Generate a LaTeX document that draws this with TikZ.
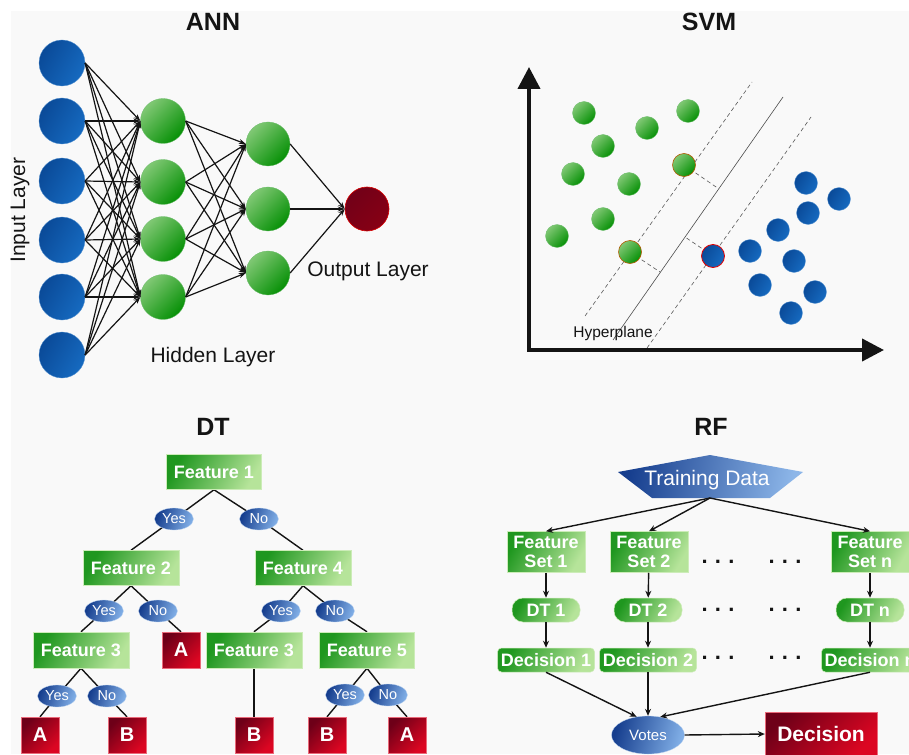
\documentclass[tikz,border=0pt]{standalone}
\usepackage{fontspec}
\setmainfont{Liberation Sans}
\usetikzlibrary{arrows.meta,shapes.geometric}
\definecolor{bgc}{HTML}{F9F9F9}
\definecolor{blueA}{HTML}{0A4A98}
\definecolor{blueB}{HTML}{166AC0}
\definecolor{greenL}{HTML}{80C874}
\definecolor{greenD}{HTML}{069006}
\definecolor{redD}{HTML}{720018}
\definecolor{boxD}{HTML}{1F971F}
\definecolor{boxL}{HTML}{B6E49A}
\definecolor{rboxD}{HTML}{6E0018}
\definecolor{rboxL}{HTML}{DC0622}
\definecolor{ellD}{HTML}{163E8E}
\definecolor{ellL}{HTML}{80AEE6}
\definecolor{ink}{HTML}{141414}
\pgfdeclarelayer{bg}
\pgfdeclarelayer{edges}
\pgfsetlayers{bg,edges,main}
\tikzset{
  ball/.style={circle,inner sep=0pt,minimum size=#1},
  bblue/.style={ball=#1,draw=blueB!70!white,line width=0.3pt,top color=blueA,bottom color=blueB,shading angle=60},
  bgreen/.style={ball=#1,draw=greenD!60!white,line width=0.3pt,top color=greenL,bottom color=greenD,shading angle=45},
  title/.style={font=\fontsize{25}{28}\selectfont\bfseries,text=ink},
  lbl/.style={font=\fontsize{21}{24}\selectfont,text=ink},
  annedge/.style={draw=ink,line width=1.2pt,-{Stealth[length=7pt,width=5pt]}},
  gbox/.style={rectangle,draw=boxL!70!white,line width=0.5pt,top color=boxD,bottom color=boxL,shading angle=60,text=white,font=\fontsize{18}{21}\selectfont\bfseries,inner sep=0pt,align=center},
  rbox/.style={rectangle,draw=rboxL!60!white,line width=0.4pt,top color=rboxD,bottom color=rboxL,shading angle=45,text=white,font=\fontsize{20}{22}\selectfont\bfseries,inner sep=0pt,minimum width=38,minimum height=36},
  yn/.style={ellipse,inner sep=0pt,minimum width=39,minimum height=22,draw=ellL!50!white,line width=0.3pt,top color=ellD,bottom color=ellL,shading angle=70,text=white,font=\fontsize{14.5}{16}\selectfont},
  dtedge/.style={draw=ink,line width=1.4pt},
  rfedge/.style={draw=ink,line width=1.4pt,-{Stealth[length=7pt,width=6pt]}},
  dots/.style={font=\fontsize{22}{24}\selectfont\bfseries,text=ink,inner sep=0pt},
  svmline/.style={draw=black!70,line width=0.6pt},
  svmdash/.style={draw=black!65,line width=0.6pt,dash pattern=on 4pt off 3pt},
}
\begin{document}
\begin{tikzpicture}[x=1pt,y=-1pt]
\useasboundingbox (0,0) rectangle (909,754);
\clip (0,0) rectangle (909,754);
\begin{pgfonlayer}{bg}
\fill[bgc] (11,11) rectangle (909,754);
\end{pgfonlayer}

% ================= ANN =================
\node[title] (tann) at (213,22) {ANN};
\foreach \i/\y in {1/63,2/121,3/181,4/240,5/297,6/355}
  \node[bblue=46] (i\i) at (62,\y) {};
\foreach \i/\y in {1/121,2/182,3/239,4/297}
  \node[bgreen=45] (h\i) at (163,\y) {};
\foreach \i/\y in {1/144,2/209,3/273}
  \node[bgreen=44] (k\i) at (268,\y) {};
\node[ball=44,draw=red!85!black,line width=0.6pt,top color=redD,bottom color=redD!85!red,shading angle=45] (out) at (367,209) {};
\foreach \i in {1,...,6}
  \foreach \j in {1,...,4}
    \draw[annedge] (i\i.east) -- (h\j.west);
\foreach \i in {1,...,4}
  \foreach \j in {1,...,3}
    \draw[annedge] (h\i.east) -- (k\j.west);
\foreach \j in {1,...,3}
  \draw[annedge] (k\j.east) -- (out.west);
\node[lbl,rotate=90] (linput) at (20,210) {Input Layer};
\node[lbl] (lhidden) at (213,357) {Hidden Layer};
\node[lbl] (loutput) at (368,271) {Output Layer};

% ================= SVM =================
\node[title] (tsvm) at (709,22) {SVM};
\coordinate (O) at (529,350);
\coordinate (ytip) at (529,67);
\coordinate (xtip) at (884,350);
\draw[draw=ink,line width=4pt,line join=miter,{Triangle[length=22pt,width=22pt]}-{Triangle[length=22pt,width=22pt]}] (ytip) -- (O) -- (xtip);
\begin{pgfonlayer}{edges}
\coordinate (da1) at (585,316); \coordinate (da2) at (752,82);
\coordinate (hp1) at (613,340); \coordinate (hp2) at (783,97);
\coordinate (db1) at (647,348); \coordinate (db2) at (811,117);
\draw[svmdash] (da1) -- (da2);
\draw[svmline] (hp1) -- (hp2);
\draw[svmdash] (db1) -- (db2);
\end{pgfonlayer}
\foreach \x/\y [count=\n] in {584/113,688/111,647/128,603/146,573/174,629/184,603/219,557/236}
  \node[bgreen=23] (g\n) at (\x,\y) {};
\foreach \x/\y [count=\n] in {806/183,839/199,808/213,778/230,750/251,794/261,760/285,815/292,791/313}
  \node[bblue=23] (b\n) at (\x,\y) {};
\node[bgreen=23,draw=orange!70!black,line width=0.6pt] (sv1) at (684,165) {};
\node[bgreen=23,draw=orange!70!black,line width=0.6pt] (sv2) at (630,252) {};
\node[bblue=23,draw=red!90!black,line width=0.8pt] (sv3) at (713,256) {};
\coordinate (p1) at (719,189);
\coordinate (p2) at (660,272);
\coordinate (p3) at (685,237);
\begin{pgfonlayer}{edges}
\draw[svmdash] (sv1.center) -- (p1);
\draw[svmdash] (sv2.center) -- (p2);
\draw[svmdash] (sv3.center) -- (p3);
\end{pgfonlayer}
\node[font=\fontsize{15.5}{18}\selectfont,text=ink,inner sep=0pt] (lhyp) at (613,333) {Hyperplane};

% ================= DT =================
\node[title] (tdt) at (213,427) {DT};
\node[gbox,minimum width=95,minimum height=35] (f1) at (214,472) {Feature 1};
\node[gbox,minimum width=96,minimum height=35] (f2) at (131,568) {Feature 2};
\node[gbox,minimum width=96,minimum height=35] (f4) at (303,568) {Feature 4};
\node[gbox,minimum width=96,minimum height=36] (f3) at (81,650) {Feature 3};
\node[gbox,minimum width=96,minimum height=36] (f3b) at (254,650) {Feature 3};
\node[gbox,minimum width=95,minimum height=36] (f5) at (367,650) {Feature 5};
\node[rbox] (a1) at (181,650) {A};
\node[rbox] (a2) at (40,735) {A};
\node[rbox] (b1) at (127,735) {B};
\node[rbox] (b2) at (254,735) {B};
\node[rbox] (b3) at (327,735) {B};
\node[rbox] (a3) at (407,735) {A};
\node[yn] (y1) at (174,519) {Yes};
\node[yn] (n1) at (259,519) {No};
\node[yn] (y2) at (104,611) {Yes};
\node[yn] (n2) at (158,611) {No};
\node[yn] (y3) at (281,611) {Yes};
\node[yn] (n3) at (335,611) {No};
\node[yn] (y4) at (57,696) {Yes};
\node[yn] (n4) at (107,696) {No};
\node[yn] (y5) at (345,695) {Yes};
\node[yn] (n5) at (388,695) {No};
\begin{pgfonlayer}{edges}
\draw[dtedge] (f1.south) -- (y1.center) -- (f2.north);
\draw[dtedge] (f1.south) -- (n1.center) -- (f4.north);
\draw[dtedge] (f2.south) -- (y2.center) -- (f3.north);
\draw[dtedge] (f2.south) -- (n2.center) -- (a1.north);
\draw[dtedge] (f4.south) -- (y3.center) -- (f3b.north);
\draw[dtedge] (f4.south) -- (n3.center) -- (f5.north);
\draw[dtedge] (f3.south) -- (y4.center) -- (a2.north);
\draw[dtedge] (f3.south) -- (n4.center) -- (b1.north);
\draw[dtedge] (f3b.south) -- (b2.north);
\draw[dtedge] (f5.south) -- (y5.center) -- (b3.north);
\draw[dtedge] (f5.south) -- (n5.center) -- (a3.north);
\end{pgfonlayer}

% ================= RF =================
\node[title] (trf) at (711,427) {RF};
\coordinate (tdl) at (618,472);
\coordinate (tdtop) at (710,455);
\coordinate (tdr) at (803,472);
\coordinate (tdbr) at (770,498);
\coordinate (tdbl) at (652,498);
\coordinate (tdb) at (710,498);
\shade[top color=ellD,bottom color=ellL!90!white,shading angle=80] (tdl) -- (tdtop) -- (tdr) -- (tdbr) -- (tdbl) -- cycle;
\node[font=\fontsize{21}{24}\selectfont,text=white] (tdtext) at (707,480) {Training Data};
\node[gbox,minimum width=78,minimum height=41] (fs1) at (546,552) {Feature\\[-2pt]Set 1};
\node[gbox,minimum width=78,minimum height=41] (fs2) at (649,552) {Feature\\[-2pt]Set 2};
\node[gbox,minimum width=78,minimum height=41] (fsn) at (870,552) {Feature\\[-2pt]Set n};
\node[gbox,minimum width=68,minimum height=24,rounded corners=11] (dt1) at (546,610) {DT 1};
\node[gbox,minimum width=68,minimum height=24,rounded corners=11] (dt2) at (648,610) {DT 2};
\node[gbox,minimum width=68,minimum height=24,rounded corners=11] (dtn) at (870,610) {DT n};
\node[gbox,minimum width=97,minimum height=24,rounded corners=4] (d1) at (546,660) {Decision 1};
\node[gbox,minimum width=97,minimum height=24,rounded corners=4] (d2) at (648,660) {Decision 2};
\node[gbox,minimum width=97,minimum height=24,rounded corners=4] (dn) at (870,660) {Decision n};
\foreach \x/\y [count=\n] in {718/562,785/562,718/610,785/610,718/658,785/658}
  \node[dots] (dd\n) at (\x,\y) {.\,\,.\,\,.};
\node[ellipse,inner sep=0pt,minimum width=73,minimum height=38,draw=ellL!50!white,line width=0.3pt,top color=ellD,bottom color=ellL,shading angle=75,text=white,font=\fontsize{15}{17}\selectfont] (votes) at (648,735) {Votes};
\node[rbox,minimum width=112,minimum height=44,font=\fontsize{21}{24}\selectfont\bfseries] (dec) at (821,734) {Decision};
\draw[rfedge] (tdb) -- (fs1.north);
\draw[rfedge] (tdb) -- (fs2.north);
\draw[rfedge] (tdb) -- (fsn.north);
\draw[rfedge] (fs1) -- (dt1);
\draw[rfedge] (fs2) -- (dt2);
\draw[rfedge] (fsn) -- (dtn);
\draw[rfedge] (dt1) -- (d1);
\draw[rfedge] (dt2) -- (d2);
\draw[rfedge] (dtn) -- (dn);
\draw[rfedge] (d1.south) -- (votes.122);
\draw[rfedge] (d2.south) -- (votes.north);
\draw[rfedge] (dn.south) -- (votes.56);
\draw[rfedge] (votes.east) -- (dec.west);
\end{tikzpicture}
\end{document}
